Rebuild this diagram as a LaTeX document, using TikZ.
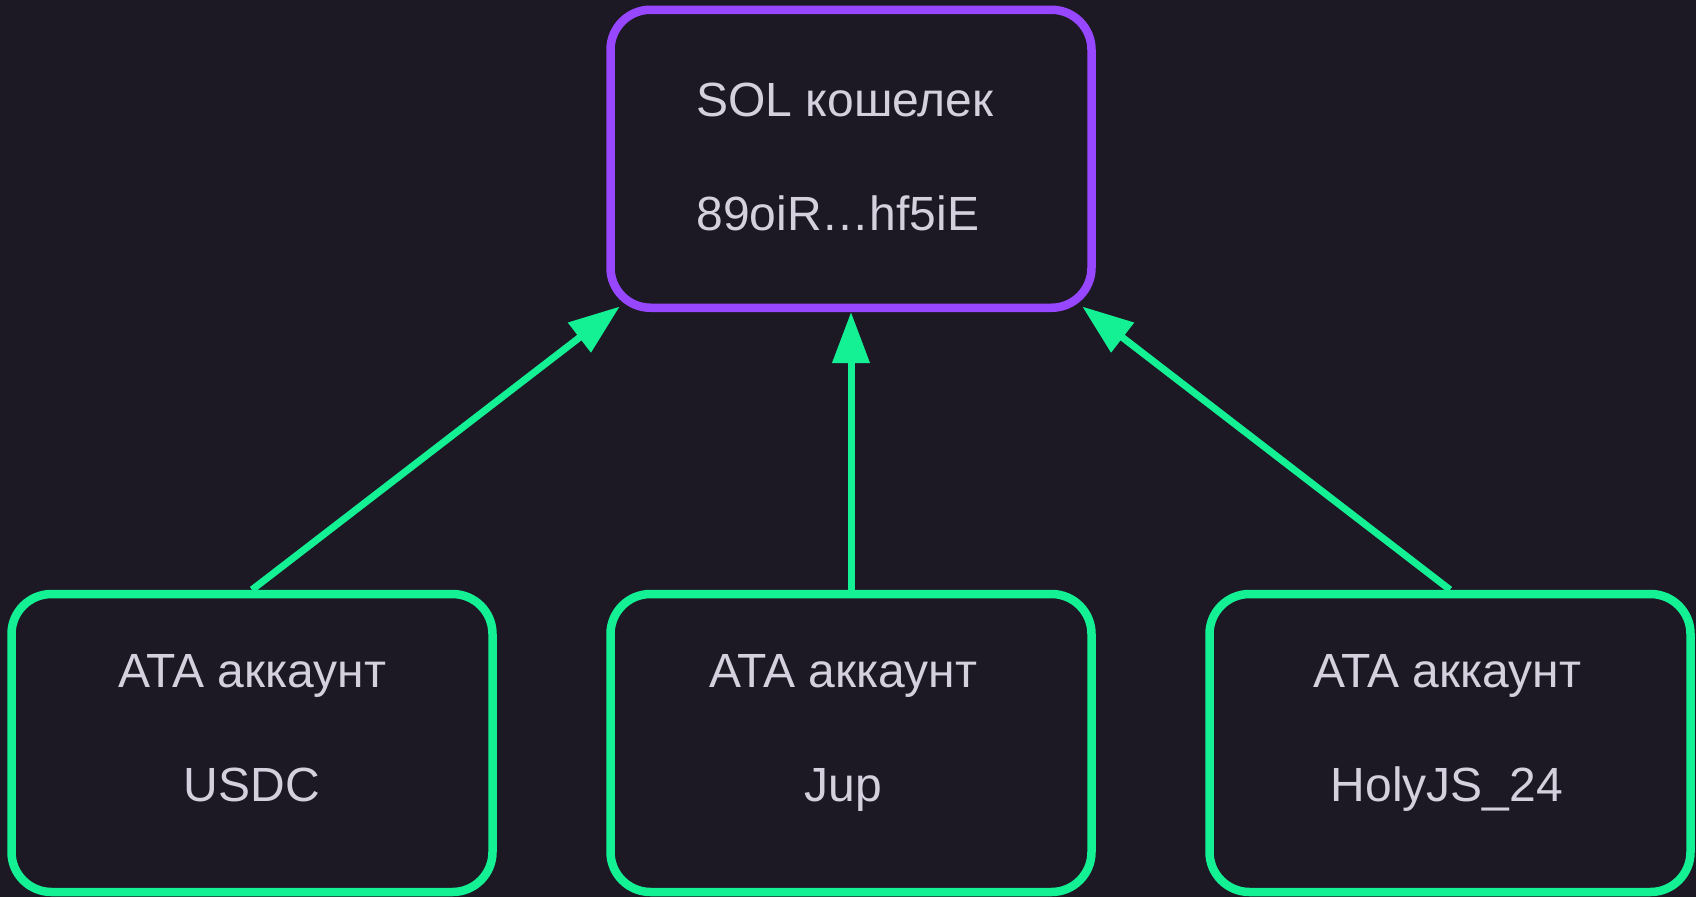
\documentclass[tikz,border=0pt]{standalone}
\usepackage{fontspec}
\setmainfont{Liberation Sans}
\usetikzlibrary{arrows.meta,calc}
\definecolor{bgc}{RGB}{28,24,36}
\definecolor{purp}{RGB}{151,71,255}
\definecolor{grn}{RGB}{20,241,149}
\definecolor{txt}{RGB}{212,208,222}
\tikzset{
  box/.style={draw, rounded corners=40pt, line width=8.5pt, fill=bgc,
    minimum width=481pt, minimum height=298pt, inner sep=0pt,
    align=center, text=txt, font=\fontsize{48}{114}\selectfont},
  walletbox/.style={box, draw=purp, text depth=4pt, align=left},
  atabox/.style={box, draw=grn, text depth=30pt},
  link/.style={draw=grn, line width=7pt, -{Triangle[length=51pt,width=36pt]}}
}
\begin{document}
\begin{tikzpicture}[x=1pt,y=-1pt]
\fill[bgc] (0,0) rectangle (1696,897);
\useasboundingbox (0,0) rectangle (1696,897);
\node[walletbox] (sol) at (851,158.75) {SOL кошелек\hspace*{12pt}\\89oiR…hf5iE};
\node[atabox] (usdc) at (252,743) {ATA аккаунт\\USDC};
\node[atabox] (jup) at (851,743) {ATA аккаунт\hspace*{16pt}\\Jup\hspace*{16pt}};
\node[atabox] (holy) at (1450,743) {ATA аккаунт\hspace*{6pt}\\HolyJS\_24\hspace*{6pt}};
\coordinate (tipL) at ($(sol.south west)+(13.5,-5.5)$);
\coordinate (tipR) at ($(sol.south east)+(-13.5,-5.5)$);
\draw[link] (usdc.north) -- (tipL);
\draw[link] (jup.north) -- (sol.south);
\draw[link] (holy.north) -- (tipR);
\end{tikzpicture}
\end{document}
